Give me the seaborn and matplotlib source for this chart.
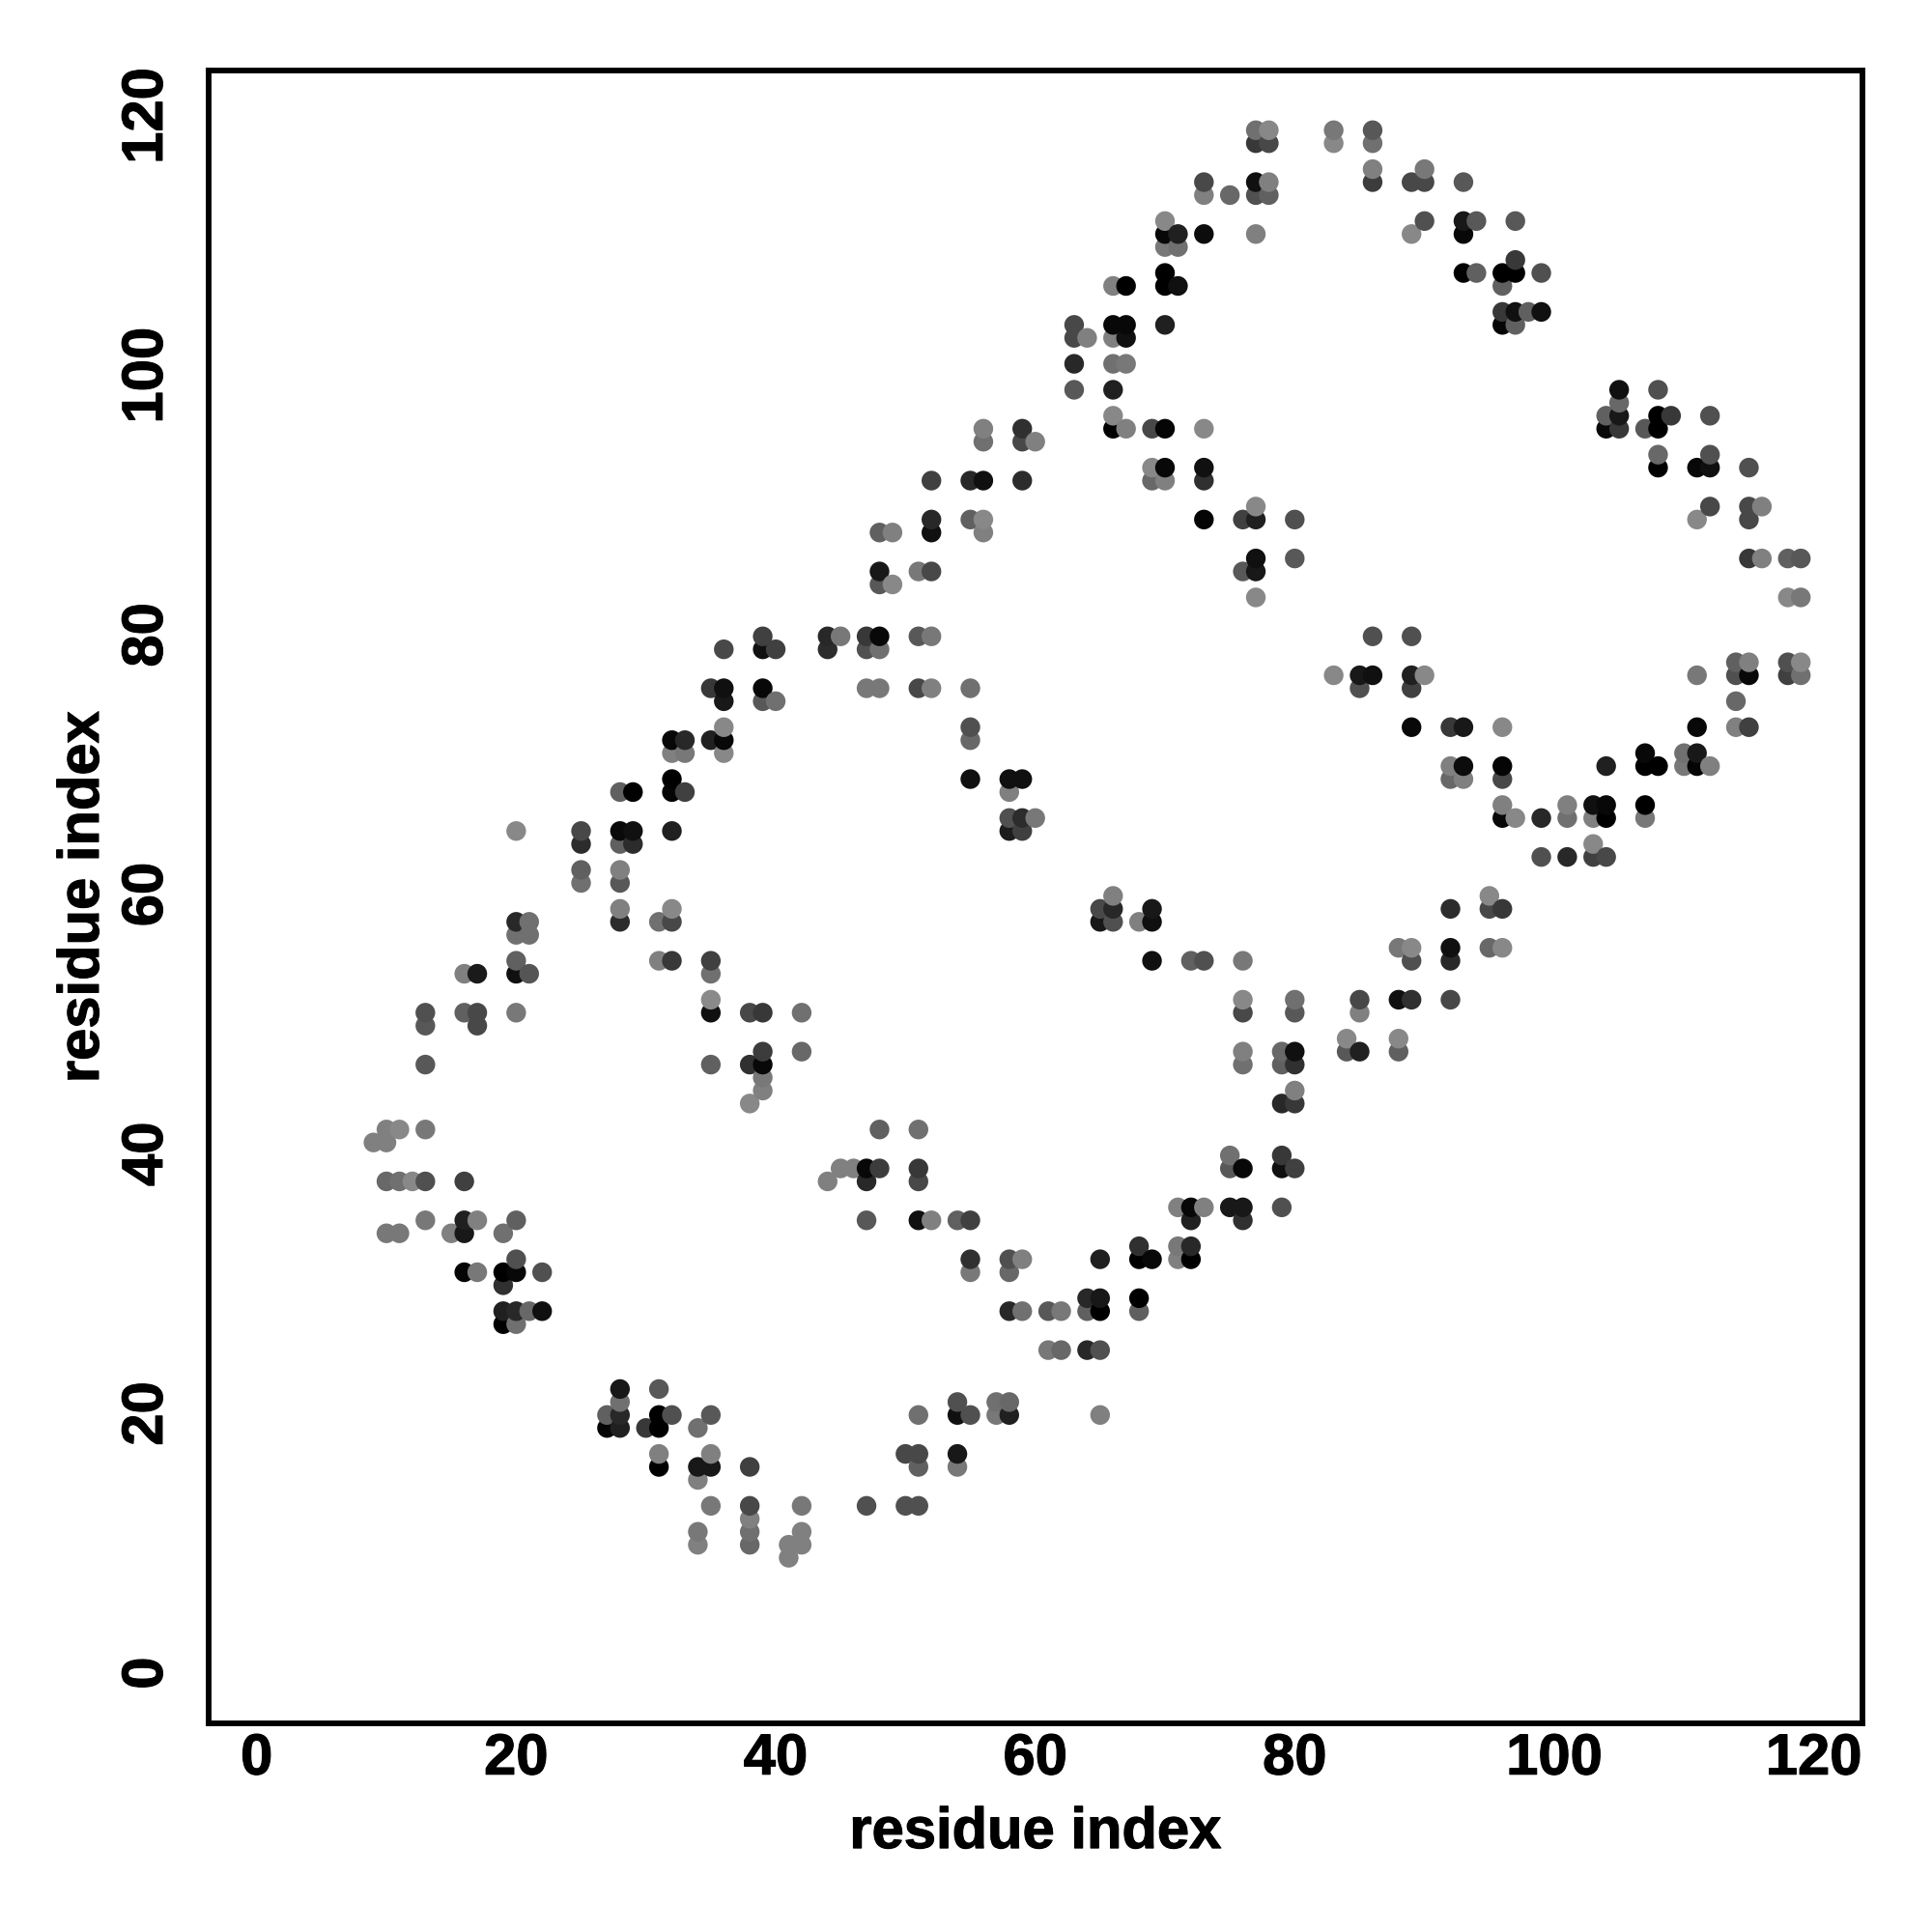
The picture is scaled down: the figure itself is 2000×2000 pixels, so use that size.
import pandas as pd
from matplotlib import pyplot as plt
from matplotlib import patheffects, transforms
import seaborn as sns

# contact rows: y residue, x residues on that row, grey level of each dot (0 black, 255 white)
row_y = [119, 118, 116, 115, 114, 112, 111, 110, 109, 108, 107, 105, 104, 103, 101, 99, 98, 97, 96, 95,
         94, 93, 92, 90, 89, 88, 86, 85, 84, 83, 80, 79, 78, 77, 76, 75, 73, 72, 71, 70,
         69, 68, 67, 66, 65, 64, 63, 62, 61, 60, 59, 58, 57, 56, 55, 54, 52, 51, 50, 49,
         48, 47, 46, 45, 44, 42, 41, 40, 39, 38, 36, 35, 34, 33, 32, 31, 30, 29, 28, 27,
         25, 22, 21, 20, 19, 17, 16, 15, 13, 12, 11, 10, 9]
row_x = [
    [77, 78, 83, 86],
    [77, 78, 83, 86],
    [86, 90],
    [73, 77, 78, 86, 89, 90, 93],
    [73, 75, 77, 78],
    [70, 90, 93, 94, 97],
    [70, 71, 73, 77, 89, 93],
    [70, 71],
    [97],
    [70, 93, 94, 96, 97, 99],
    [66, 67, 70, 71, 96],
    [96, 97, 98, 99],
    [63, 66, 67, 70, 96, 97],
    [63, 64, 66, 67],
    [63, 66, 67],
    [63, 66, 105, 108],
    [105],
    [66, 104, 105, 108, 109, 112],
    [56, 59, 66, 67, 69, 70, 73, 104, 105, 107, 108],
    [56, 59, 60],
    [108, 112],
    [69, 70, 73, 108, 111, 112, 115],
    [52, 55, 56, 59, 69, 70, 73],
    [77, 112, 115, 116],
    [52, 55, 56, 73, 76, 77, 80, 111, 115],
    [48, 49, 52, 56],
    [77, 80, 115, 116, 118, 119],
    [48, 51, 52, 76, 77],
    [48, 49],
    [77, 118, 119],
    [39, 44, 45, 47, 48, 51, 52, 86, 89],
    [36, 39, 40, 44, 47, 48],
    [114, 115, 118, 119],
    [83, 85, 86, 89, 90, 111, 114, 115, 118, 119],
    [35, 36, 39, 47, 48, 51, 52, 55, 85, 89],
    [36, 39, 40, 114],
    [36, 55, 89, 92, 93, 96, 111, 114, 115],
    [32, 33, 35, 36, 55],
    [32, 33, 36, 107, 110, 111],
    [92, 93, 96, 104, 107, 108, 110, 111, 112],
    [32, 55, 58, 59, 92, 93, 96],
    [28, 29, 32, 33, 58],
    [96, 101, 103, 104, 107],
    [58, 59, 60, 96, 97, 99, 101, 103, 104, 107],
    [20, 25, 28, 29, 32, 58, 59],
    [25, 28, 29, 103],
    [99, 101, 103, 104],
    [25, 28],
    [25, 28],
    [66, 95],
    [28, 32, 65, 66, 69, 92, 95, 96],
    [20, 21, 28, 31, 32, 65, 66, 68, 69],
    [20, 21],
    [88, 89, 92, 95, 96],
    [20, 31, 32, 35, 69, 72, 73, 76, 89, 92],
    [16, 17, 20, 21, 35],
    [35, 76, 80, 85, 88, 89, 92],
    [13, 16, 17, 20, 35, 38, 39, 42, 76, 80, 85],
    [13, 17],
    [84, 88],
    [39, 42, 76, 79, 80, 84, 85, 88],
    [13, 35, 38, 39, 76, 79, 80],
    [39],
    [39, 80],
    [38, 79, 80],
    [10, 11, 13, 48, 51],
    [9, 10],
    [75, 79],
    [45, 46, 47, 48, 51, 75, 76, 79, 80],
    [10, 11, 12, 13, 16, 44, 47, 51],
    [71, 72, 73, 75, 76, 79],
    [13, 16, 17, 20, 47, 51, 52, 54, 55, 72, 76],
    [10, 11, 15, 16, 19],
    [68, 71, 72],
    [20, 55, 58, 59, 65, 68, 69, 71, 72],
    [16, 17, 19, 20, 22, 55, 58],
    [19],
    [64, 65, 68],
    [19, 20, 21, 22, 58, 59, 61, 62, 64, 65, 68],
    [19, 20],
    [61, 62, 64, 65],
    [28, 31],
    [28, 54, 57, 58],
    [27, 28, 31, 32, 35, 51, 54, 55, 57, 58, 65],
    [27, 28, 30, 31, 34],
    [31, 35, 50, 51, 54],
    [31, 34, 35, 38, 51, 54],
    [34],
    [35, 38, 42, 47, 50, 51],
    [38],
    [34, 38, 42],
    [34, 38, 41, 42],
    [41],
]
row_grey = [
    [0x70, 0x88, 0x78, 0x58],
    [0x38, 0x48, 0x88, 0x70],
    [0x80, 0x78],
    [0x48, 0x10, 0x80, 0x3c, 0x48, 0x48, 0x58],
    [0x80, 0x68, 0x50, 0x60],
    [0x88, 0x50, 0x18, 0x58, 0x58],
    [0x08, 0x20, 0x0c, 0x80, 0x88, 0x08],
    [0x78, 0x70],
    [0x38],
    [0x00, 0x00, 0x60, 0x00, 0x00, 0x50],
    [0x80, 0x00, 0x00, 0x10, 0x60],
    [0x38, 0x10, 0x60, 0x10],
    [0x48, 0x08, 0x08, 0x20, 0x05, 0x60],
    [0x48, 0x80, 0x80, 0x10],
    [0x28, 0x70, 0x78],
    [0x58, 0x20, 0x10, 0x50],
    [0x68],
    [0x88, 0x60, 0x18, 0x00, 0x38, 0x50],
    [0x80, 0x30, 0x00, 0x80, 0x48, 0x05, 0x88, 0x08, 0x38, 0x58, 0x00],
    [0x70, 0x48, 0x80],
    [0x68, 0x50],
    [0x88, 0x08, 0x10, 0x00, 0x08, 0x10, 0x50],
    [0x40, 0x28, 0x10, 0x2c, 0x68, 0x80, 0x30],
    [0x88, 0x48, 0x48, 0x80],
    [0x28, 0x60, 0x88, 0x05, 0x40, 0x20, 0x50, 0x88, 0x48],
    [0x60, 0x80, 0x10, 0x80],
    [0x10, 0x58, 0x38, 0x80, 0x60, 0x58],
    [0x18, 0x78, 0x48, 0x58, 0x18],
    [0x58, 0x88],
    [0x88, 0x88, 0x78],
    [0x40, 0x28, 0x78, 0x38, 0x08, 0x58, 0x78, 0x50, 0x50],
    [0x48, 0x10, 0x40, 0x2c, 0x50, 0x70],
    [0x60, 0x80, 0x50, 0x88],
    [0x88, 0x18, 0x10, 0x20, 0x88, 0x78, 0x50, 0x08, 0x40, 0x70],
    [0x38, 0x10, 0x08, 0x78, 0x78, 0x48, 0x80, 0x70, 0x50, 0x40],
    [0x18, 0x58, 0x70, 0x68],
    [0x88, 0x50, 0x08, 0x38, 0x18, 0x88, 0x08, 0x80, 0x40],
    [0x08, 0x28, 0x20, 0x08, 0x68],
    [0x80, 0x78, 0x88, 0x08, 0x70, 0x18],
    [0x80, 0x0c, 0x05, 0x20, 0x00, 0x00, 0x78, 0x05, 0x80],
    [0x00, 0x10, 0x10, 0x10, 0x68, 0x80, 0x48],
    [0x60, 0x00, 0x05, 0x40, 0x80],
    [0x80, 0x80, 0x10, 0x08, 0x00],
    [0x50, 0x2c, 0x78, 0x08, 0x88, 0x28, 0x70, 0x80, 0x00, 0x78],
    [0x88, 0x48, 0x0a, 0x10, 0x20, 0x1c, 0x40],
    [0x2c, 0x60, 0x2c, 0x88],
    [0x50, 0x28, 0x40, 0x48],
    [0x60, 0x80],
    [0x70, 0x58],
    [0x80, 0x88],
    [0x80, 0x88, 0x48, 0x28, 0x18, 0x2c, 0x48, 0x38],
    [0x28, 0x70, 0x2c, 0x70, 0x48, 0x18, 0x50, 0x80, 0x10],
    [0x70, 0x70],
    [0x78, 0x88, 0x10, 0x68, 0x88],
    [0x60, 0x80, 0x38, 0x40, 0x10, 0x60, 0x50, 0x78, 0x50, 0x28],
    [0x80, 0x1a, 0x10, 0x55, 0x70],
    [0x8a, 0x88, 0x70, 0x48, 0x10, 0x30, 0x48],
    [0x50, 0x60, 0x48, 0x78, 0x10, 0x48, 0x38, 0x70, 0x48, 0x58, 0x80],
    [0x58, 0x48],
    [0x88, 0x88],
    [0x3c, 0x68, 0x80, 0x68, 0x10, 0x58, 0x20, 0x60],
    [0x58, 0x60, 0x30, 0x08, 0x70, 0x60, 0x30],
    [0x78],
    [0x80, 0x80],
    [0x88, 0x28, 0x38],
    [0x80, 0x88, 0x78, 0x60, 0x70],
    [0x80, 0x80],
    [0x70, 0x38],
    [0x80, 0x80, 0x08, 0x3c, 0x38, 0x58, 0x08, 0x10, 0x40],
    [0x68, 0x70, 0x88, 0x50, 0x40, 0x80, 0x28, 0x48],
    [0x80, 0x08, 0x80, 0x18, 0x18, 0x50],
    [0x78, 0x20, 0x80, 0x60, 0x58, 0x10, 0x80, 0x60, 0x40, 0x20, 0x30],
    [0x78, 0x78, 0x80, 0x18, 0x70],
    [0x30, 0x78, 0x28],
    [0x50, 0x30, 0x50, 0x80, 0x20, 0x00, 0x08, 0x80, 0x00],
    [0x05, 0x78, 0x00, 0x08, 0x50, 0x78, 0x68],
    [0x30],
    [0x28, 0x18, 0x00],
    [0x20, 0x28, 0x68, 0x10, 0x28, 0x70, 0x58, 0x78, 0x60, 0x00, 0x60],
    [0x00, 0x70],
    [0x78, 0x68, 0x28, 0x50],
    [0x18, 0x58],
    [0x70, 0x50, 0x70, 0x68],
    [0x60, 0x28, 0x00, 0x50, 0x58, 0x70, 0x10, 0x50, 0x78, 0x20, 0x80],
    [0x05, 0x20, 0x38, 0x00, 0x70],
    [0x80, 0x80, 0x48, 0x48, 0x18],
    [0x00, 0x18, 0x18, 0x40, 0x60, 0x78],
    [0x80],
    [0x78, 0x48, 0x78, 0x50, 0x50, 0x50],
    [0x80],
    [0x78, 0x70, 0x80],
    [0x80, 0x68, 0x80, 0x80],
    [0x80],
]
ticks = [0, 20, 40, 60, 80, 100, 120]

rows = []
for y, xs, greys in zip(row_y, row_x, row_grey):
    rows.append(pd.DataFrame({'i': xs, 'j': y, 'grey': greys}))
df = pd.concat(rows).sort_values(['i', 'j'])

sns.set_theme(style='white')
plt.rcParams['font.family'] = ['Liberation Sans', 'DejaVu Sans']
plt.rcParams['font.weight'] = 'bold'

fig = plt.figure(figsize=(20, 20), dpi=100)
ax = fig.add_axes([216 / 2000, 1 - 1784 / 2000, 1712 / 2000, 1711 / 2000])

sns.scatterplot(data=df, x='i', y='j', hue='grey', palette='gray', hue_norm=(0, 255),
                s=215, linewidth=0, legend=False, ax=ax)

ax.set_xlim(-3.7, 123.75)
ax.set_ylim(-3.76, 123.6)
ax.set_xticks(ticks)
ax.set_yticks(ticks)
ax.tick_params(axis='x', length=5, width=2.6, color='black', labelsize=43, pad=2, labelcolor='black')
ax.tick_params(axis='y', length=5, width=2.6, color='black', labelsize=43, pad=21, labelcolor='black')
plt.setp(ax.get_yticklabels(), rotation=90, va='center')
for s in ax.spines.values():
    s.set_linewidth(4.2)
    s.set_color('black')

ax.set_xlabel('residue index', fontsize=43, fontweight='bold', color='black')
ax.set_ylabel('residue index', fontsize=43, fontweight='bold', color='black')
ax.xaxis.set_label_coords(0.5, -0.0503)
ax.yaxis.set_label_coords(-0.0596, 0.5)

# rotated labels sit a little low, and the original bold is heavier
shift = transforms.ScaledTranslation(0, 1 / 72, fig.dpi_scale_trans)
heavier = [patheffects.withStroke(linewidth=0.8, foreground='black')]
for label in ax.get_yticklabels():
    label.set_transform(label.get_transform() + shift)
for label in ax.get_xticklabels() + ax.get_yticklabels() + [ax.xaxis.label, ax.yaxis.label]:
    label.set_path_effects(heavier)

plt.savefig('out.png', dpi=100)
